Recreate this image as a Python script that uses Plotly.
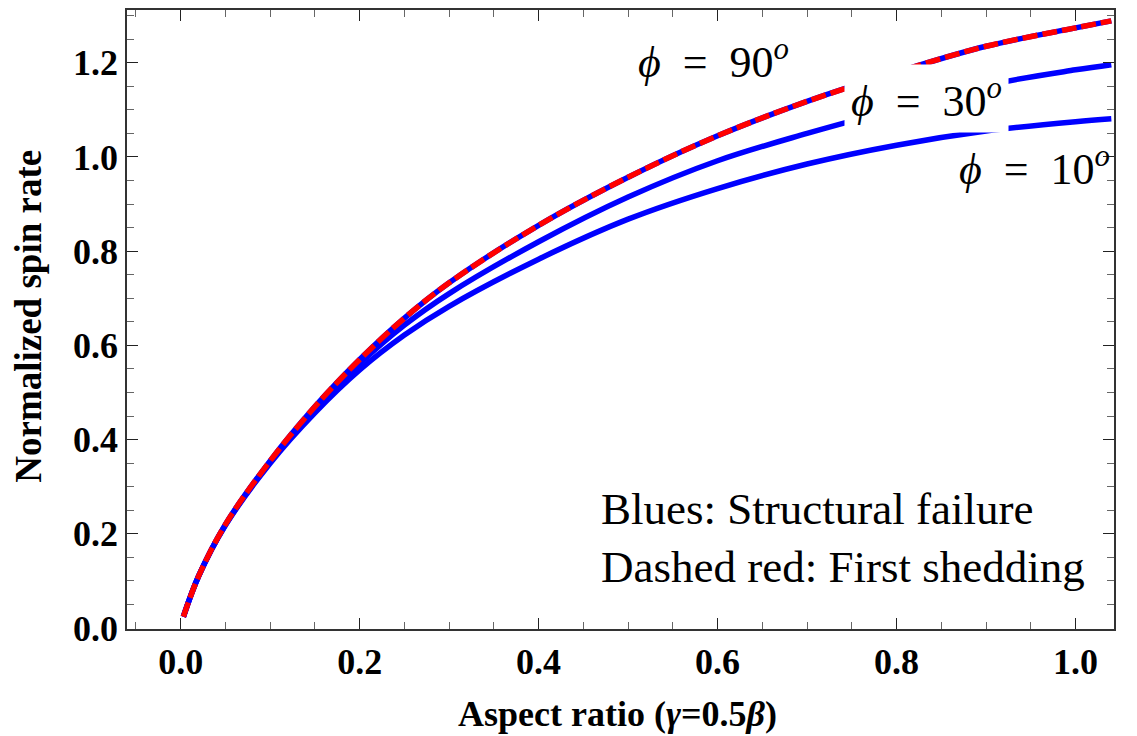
import plotly.graph_objects as go

# aspect ratio (x) and normalized spin rate for each wedge angle
aspect = [0.003, 0.02, 0.05, 0.1, 0.15, 0.2, 0.25, 0.3, 0.4, 0.5, 0.6, 0.7, 0.8, 0.9, 1.0, 1.04]
spin_90 = [0.024, 0.11, 0.22, 0.355, 0.47, 0.57, 0.658, 0.733, 0.855, 0.957, 1.045, 1.118, 1.18, 1.235, 1.274, 1.289]
spin_30 = [0.024, 0.11, 0.219, 0.353, 0.465, 0.561, 0.643, 0.71, 0.82, 0.915, 0.992, 1.05, 1.102, 1.152, 1.185, 1.196]
spin_10 = [0.024, 0.11, 0.218, 0.35, 0.457, 0.548, 0.622, 0.683, 0.783, 0.868, 0.933, 0.985, 1.025, 1.055, 1.075, 1.081]
shed_90 = spin_90  # first shedding curve coincides with phi = 90

BLUE = "#0000ff"
RED = "#ff0000"
SERIF = "Liberation Serif, Times New Roman, serif"
SP = "\u2002"  # wide space around "=" like the original typesetting

fig = go.Figure()

for ys in [spin_10, spin_30, spin_90]:
    fig.add_trace(go.Scatter(
        x=aspect, y=ys, mode="lines",
        line=dict(color=BLUE, width=5.5, shape="spline"),
        showlegend=False, hoverinfo="skip"
    ))

fig.add_trace(go.Scatter(
    x=aspect, y=shed_90, mode="lines",
    line=dict(color=RED, width=5.5, dash="15px,5px", shape="spline"),
    showlegend=False, hoverinfo="skip"
))

# (x, y, angle, background) - only the 30 deg label sits on top of curves
labels = [
    (0.595, 1.207, "90", "rgba(0,0,0,0)", 2),
    (0.833, 1.124, "30", "white", 6),
    (0.9545, 0.980, "10", "rgba(0,0,0,0)", 2),
]
for lx, ly, deg, bg, pad in labels:
    fig.add_annotation(
        x=lx, y=ly, text="<i>ϕ</i>" + SP + "=" + SP + deg + "<sup><i>o</i></sup>",
        showarrow=False, xanchor="center", yanchor="middle",
        bgcolor=bg, borderpad=pad,
        font=dict(family=SERIF, size=44, color="black")
    )

fig.add_annotation(
    x=0.4673, y=0.253, text="Blues: Structural failure", showarrow=False,
    xanchor="left", yanchor="middle",
    font=dict(family=SERIF, size=45, color="black")
)
fig.add_annotation(
    x=0.4673, y=0.130, text="Dashed red: First shedding", showarrow=False,
    xanchor="left", yanchor="middle",
    font=dict(family=SERIF, size=45, color="black")
)

# axis titles placed as paper annotations so margins stay fixed
fig.add_annotation(
    xref="paper", yref="paper", x=0.497, y=-0.137,
    text="<b>Aspect ratio (<i>γ</i>=0.5<i>β</i>)</b>", showarrow=False,
    xanchor="center", yanchor="middle",
    font=dict(family=SERIF, size=36, color="black")
)
fig.add_annotation(
    xref="paper", yref="paper", x=-0.0995, y=0.5057, textangle=-90,
    text="<b>Normalized spin rate</b>", showarrow=False,
    xanchor="center", yanchor="middle",
    font=dict(family=SERIF, size=37, color="black")
)

axis_common = dict(
    showgrid=False, zeroline=False, automargin=False,
    showline=True, linecolor="#333", linewidth=1.5, mirror="ticks",
    ticks="inside", ticklen=11, tickwidth=1.2, tickcolor="#222",
    minor=dict(ticks="inside", ticklen=7, tickwidth=1, tickcolor="#666", dtick=0.05),
    tickfont=dict(family=SERIF, size=36, color="black"),
    tickformat=".1f", tickprefix="<b>", ticksuffix="</b>",
)

# page body adds an 8px margin, so the figure is 8px smaller and shifted
fig.update_layout(
    width=1129, height=728,
    margin=dict(l=119, r=23, t=2, b=107),
    paper_bgcolor="white", plot_bgcolor="white",
    xaxis=dict(range=[-0.06, 1.043], dtick=0.2, tick0=0, **axis_common),
    yaxis=dict(range=[-0.002, 1.312], dtick=0.2, tick0=0, **axis_common),
)

fig.write_html("out.html")
